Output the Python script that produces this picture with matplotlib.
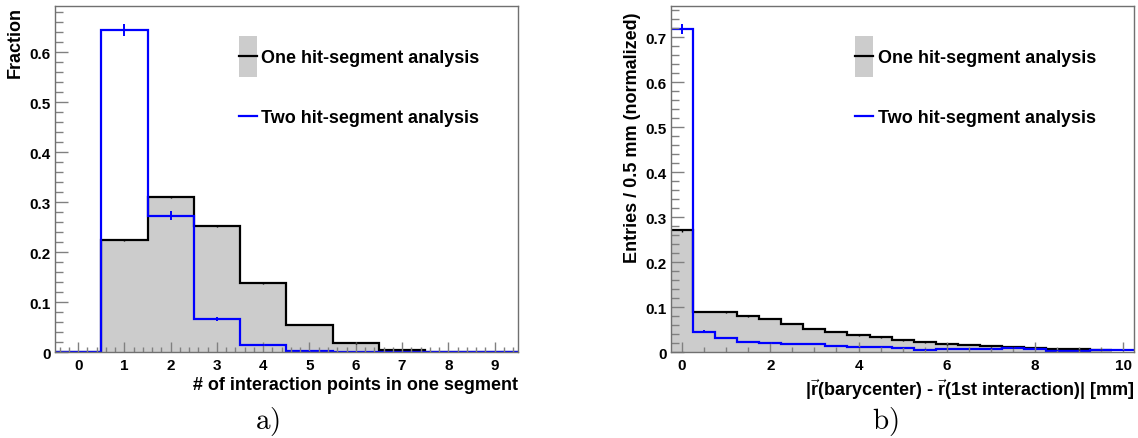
import matplotlib
matplotlib.use("Agg")
import matplotlib.pyplot as plt
import numpy as np
from matplotlib.patches import Rectangle
from matplotlib.ticker import MultipleLocator, FormatStrFormatter

# panel a) : number of interaction points in one segment
n_points = [0, 1, 2, 3, 4, 5, 6, 7, 8, 9]
one_frac = [0.0, 0.224, 0.311, 0.252, 0.139, 0.055, 0.018, 0.004, 0.0, 0.0]
one_err = [0.0, 0.002, 0.002, 0.002, 0.0015, 0.001, 0.0005, 0.0003, 0.0, 0.0]
two_frac = [0.0, 0.645, 0.273, 0.067, 0.014, 0.002, 0.0, 0.0, 0.0, 0.0]
two_err = [0.0, 0.012, 0.009, 0.004, 0.002, 0.001, 0.0, 0.0, 0.0, 0.0]

# panel b) : distance barycenter - 1st interaction [mm], 0.5 mm bins
dist_one = [0.0, 0.5, 1.0, 1.5, 2.0, 2.5, 3.0, 3.5, 4.0, 4.5,
            5.0, 5.5, 6.0, 6.5, 7.0, 7.5, 8.0, 8.5, 9.0, 9.5]
dist_two = dist_one + [10.0]
one_dist = [0.271, 0.090, 0.089, 0.081, 0.074, 0.064, 0.052, 0.046, 0.038, 0.033,
            0.027, 0.022, 0.018, 0.016, 0.013, 0.011, 0.0096, 0.0074, 0.0067, 0.006]
one_dist_err = [0.003, 0.0015, 0.0015, 0.0015, 0.001, 0.001, 0.001, 0.001, 0.001, 0.001,
                0.001, 0.001, 0.0008, 0.0008, 0.0008, 0.0008, 0.0006, 0.0006, 0.0006, 0.0006]
two_dist = [0.718, 0.046, 0.032, 0.024, 0.021, 0.018, 0.018, 0.014, 0.011, 0.0126,
            0.010, 0.006, 0.0074, 0.0074, 0.008, 0.009, 0.0074, 0.0037, 0.003, 0.005, 0.005]
two_dist_err = [0.011, 0.003, 0.0025, 0.002, 0.002, 0.002, 0.002, 0.0015, 0.0015, 0.0015,
                0.0015, 0.001, 0.001, 0.001, 0.001, 0.001, 0.001, 0.001, 0.001, 0.001, 0.001]

legend_labels = ["One hit-segment analysis", "Two hit-segment analysis"]

gray_fill = "#cccccc"
blue = "#0000ff"
frame_col = "#707070"
tick_col = "#808080"

plt.rcParams['font.family'] = ['Liberation Sans', 'DejaVu Sans']
plt.rcParams['font.weight'] = 'bold'
plt.rcParams['axes.labelweight'] = 'bold'
plt.rcParams['mathtext.fontset'] = 'custom'
plt.rcParams['mathtext.rm'] = 'Liberation Sans:bold'
plt.rcParams['mathtext.bf'] = 'Liberation Sans:bold'


def edges_from(centers, width):
    c = np.asarray(centers, dtype=float)
    return np.append(c - width / 2, c[-1] + width / 2)


def draw_hist(ax, centers, width, one, one_e, centers2, two, two_e):
    e1 = edges_from(centers, width)
    e2 = edges_from(centers2, width)
    ax.stairs(one, e1, fill=True, color=gray_fill, lw=0)
    ax.stairs(one, e1, baseline=None, color="black", lw=1.6)
    ax.errorbar(centers, one, yerr=one_e, fmt="none", ecolor="black", elinewidth=1.0)
    ax.stairs(two, e2, baseline=None, color=blue, lw=1.6)
    ax.errorbar(centers2, two, yerr=two_e, fmt="none", ecolor=blue, elinewidth=1.4)


def style_axes(ax):
    for s in ax.spines.values():
        s.set_color(frame_col)
        s.set_linewidth(1.0)
    ax.tick_params(which="both", direction="in", top=False, right=False,
                   color=tick_col, labelsize=11, width=1.0)
    ax.tick_params(axis="y", which="major", length=9.5, pad=3)
    ax.tick_params(axis="y", which="minor", length=5.5)
    ax.tick_params(axis="x", which="major", length=7.5, pad=4)
    ax.tick_params(axis="x", which="minor", length=3.5)
    ax.yaxis.set_major_locator(MultipleLocator(0.1))
    ax.yaxis.set_minor_locator(MultipleLocator(0.02))
    ax.yaxis.set_major_formatter(FormatStrFormatter('%g'))


def add_legend(ax):
    # ROOT style legend: filled box with line for the first entry, line only for the second
    tr = ax.transAxes
    x0, x1, xt = 0.397, 0.437, 0.446
    ax.add_patch(Rectangle((x0, 0.7965), x1 - x0, 0.915 - 0.7965, transform=tr,
                           facecolor=gray_fill, edgecolor="none"))
    ax.plot([x0, x1], [0.857, 0.857], transform=tr, color="black", lw=1.6)
    ax.text(xt, 0.838, legend_labels[0], transform=tr, fontsize=13, va="baseline")
    ax.plot([x0, x1], [0.684, 0.684], transform=tr, color=blue, lw=1.6)
    ax.text(xt, 0.666, legend_labels[1], transform=tr, fontsize=13, va="baseline")


fig = plt.figure(figsize=(11.38, 4.39), dpi=100)
ax1 = fig.add_axes([55 / 1138, (439 - 353.3) / 439, 462.7 / 1138, 346 / 439])
ax2 = fig.add_axes([671 / 1138, (439 - 353.3) / 439, 463.3 / 1138, 346 / 439])

draw_hist(ax1, n_points, 1.0, one_frac, one_err, n_points, two_frac, two_err)
ax1.set_xlim(-0.5, 9.5)
ax1.set_ylim(0, 0.692)
style_axes(ax1)
ax1.xaxis.set_major_locator(MultipleLocator(1))
ax1.xaxis.set_minor_locator(MultipleLocator(0.2))
ax1.set_xlabel("# of interaction points in one segment", fontsize=13, loc="right", labelpad=3)
ax1.set_ylabel("Fraction", fontsize=13, loc="top")
ax1.yaxis.set_label_coords(-0.067, 1.0)
add_legend(ax1)

draw_hist(ax2, dist_one, 0.5, one_dist, one_dist_err, dist_two, two_dist, two_dist_err)
ax2.set_xlim(-0.25, 10.25)
ax2.set_ylim(0, 0.769)
style_axes(ax2)
ax2.xaxis.set_major_locator(MultipleLocator(2))
ax2.xaxis.set_minor_locator(MultipleLocator(0.5))
ax2.set_xlabel(r"|$\vec{\mathrm{r}}$(barycenter) - $\vec{\mathrm{r}}$(1st interaction)| [mm]",
               fontsize=13, loc="right", labelpad=3)
ax2.set_ylabel("Entries / 0.5 mm (normalized)", fontsize=13, loc="top")
ax2.yaxis.set_label_coords(-0.065, 0.985)
add_legend(ax2)

fig.text(267 / 1138, 1 - 422 / 439, r"$\mathrm{a)}$", math_fontfamily="cm",
         fontsize=21, ha="center", va="center")
fig.text(885 / 1138, 1 - 422 / 439, r"$\mathrm{b)}$", math_fontfamily="cm",
         fontsize=21, ha="center", va="center")

plt.savefig("out.png", dpi=100)
plt.close()
